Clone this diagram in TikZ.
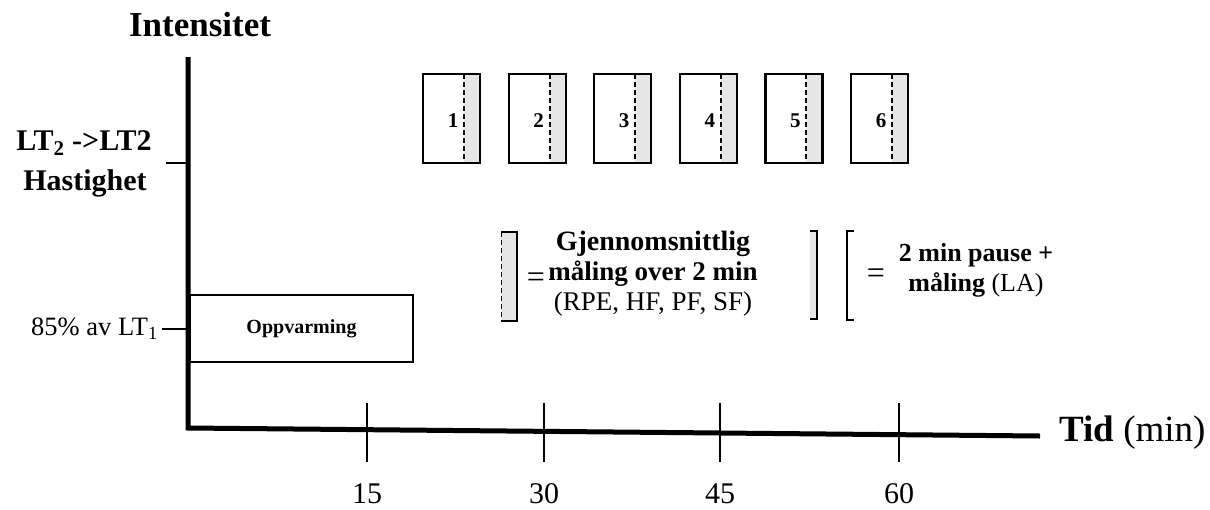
\documentclass[tikz,border=0pt]{standalone}
\usepackage{fontspec}
\setmainfont{Liberation Serif}
\definecolor{lightgreyfill}{HTML}{E6E6E6}
\begin{document}
\begin{tikzpicture}[x=1pt,y=-1pt,
  axisline/.style={line width=5pt,line join=miter},
  tickline/.style={line width=2.5pt},
  splitline/.style={line width=2pt,dash pattern=on 5pt off 3pt},
  numlabel/.style={font=\fontsize{21}{24}\selectfont\bfseries,inner sep=0pt},
  ticklabel/.style={font=\fontsize{30}{34}\selectfont,inner sep=0pt},
  legendtext/.style={align=center,inner sep=0pt,font=\fontsize{27}{30}\selectfont},
  eqsign/.style={font=\fontsize{32}{36}\selectfont,inner sep=0pt}]
\useasboundingbox (0,0) rectangle (1210,509);

% axes
\coordinate (ytop) at (188,57);
\coordinate (origin) at (188,428);
\coordinate (xend) at (1040,436);
\draw[axisline] (ytop) -- (origin) -- (xend);

% axis titles
\node[font=\fontsize{35}{40}\selectfont\bfseries,inner sep=0pt] (ytitle) at (200,25) {Intensitet};
\node[anchor=west,inner sep=0pt] (xtitle) at (1059,433)
  {\fontsize{37}{42}\selectfont\textbf{Tid} (min)};

% y ticks
\coordinate (yt1) at (166,163);
\coordinate (yt1a) at (188,163);
\draw[line width=2.5pt] (yt1) -- (yt1a);
\coordinate (yt2) at (162,329);
\coordinate (yt2a) at (188,329);
\draw[line width=2.5pt] (yt2) -- (yt2a);
\node[font=\fontsize{30}{34}\selectfont\bfseries,inner sep=0pt] (lt2) at (84,143) {LT\textsubscript{2} ->LT2};
\node[font=\fontsize{30}{34}\selectfont\bfseries,inner sep=0pt] (hast) at (85,183) {Hastighet};
\node[anchor=east,font=\fontsize{26.5}{30}\selectfont,inner sep=0pt] (lt1) at (158,329) {85\% av LT\textsubscript{1}};

% x ticks
\foreach \xx/\lab in {367/15,544/30,720/45,899/60}{
  \coordinate (tt\lab) at (\xx,403);
  \coordinate (tb\lab) at (\xx,462);
  \draw[tickline] (tt\lab) -- (tb\lab);
  \node[ticklabel] (tl\lab) at (\xx,494) {\lab};
}

% warm-up box
\node[draw,line width=1.5pt,minimum width=223pt,minimum height=67pt,inner sep=0pt,
  font=\fontsize{20}{24}\selectfont\bfseries] (warm) at (301.5,328.5) {Oppvarming};

% trial boxes
\foreach \i in {0,...,5}{
  \pgfmathsetmacro{\L}{423+85.6*\i}
  \pgfmathsetmacro{\D}{\L+41}
  \pgfmathsetmacro{\R}{\L+57}
  \pgfmathsetmacro{\N}{\L+30}
  \pgfmathtruncatemacro{\k}{\i+1}
  \fill[lightgreyfill] (\D,74) rectangle (\R,163);
  \draw[line width=2.2pt] (\L,74) rectangle (\R,163);
  \draw[splitline] (\D,74) -- (\D,163);
  \node[numlabel] (n\k) at (\N,121) {\k};
}

% legend 1
\fill[lightgreyfill] (501,232) rectangle (517,321);
\draw[line width=2pt] (501,232) -- (517,232) -- (517,321) -- (501,321);
\draw[line width=1pt,dash pattern=on 5pt off 3pt] (501,232) -- (501,321);
\node[eqsign] (eq1) at (536,280) {=};
\node[legendtext] (leg1) at (653,274)
  {{\fontsize{28}{30}\selectfont\textbf{Gjennomsnittlig}}\\\textbf{måling over 2 min}\\(RPE, HF, PF, SF)};

% legend 2
\fill[lightgreyfill] (810,231) rectangle (817,319);
\draw[line width=2pt] (810,231) -- (817,231) -- (817,319) -- (810,319);
\draw[line width=2pt] (854,231) -- (847,231) -- (847,320) -- (854,320);
\node[eqsign] (eq2) at (876,276) {=};
\node[legendtext,font=\fontsize{26}{30}\selectfont] (leg2) at (976,270)
  {\textbf{2 min pause +}\\\textbf{måling} (LA)};
\end{tikzpicture}
\end{document}
